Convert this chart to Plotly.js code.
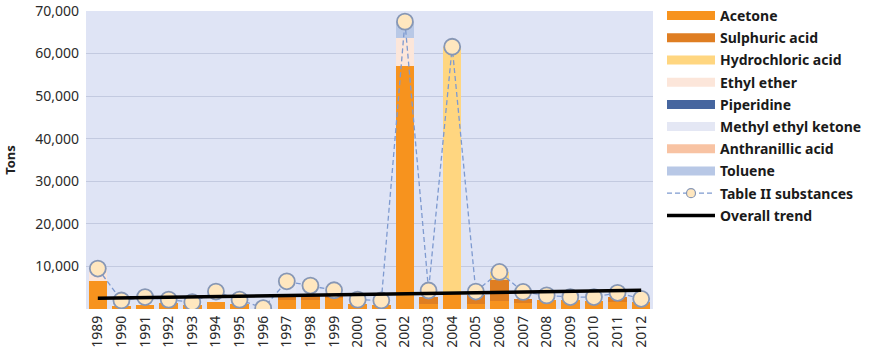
<!DOCTYPE html>
<html>
<head>
<meta charset="utf-8">
<script src="https://cdn.plot.ly/plotly-3.0.1.min.js"></script>
<style>html,body{margin:0;padding:0;background:#fff;}#chart{width:874px;height:355px;}</style>
</head>
<body>
<div id="chart"></div>
<script>
const years = ['1989','1990','1991','1992','1993','1994','1995','1996','1997','1998','1999','2000','2001','2002','2003','2004','2005','2006','2007','2008','2009','2010','2011','2012'];
const acetone      = [6500, 800, 1050, 1400, 1000, 1750, 1200, 0, 2000, 2200, 2500, 1200, 1000, 57100, 1100, 4000, 1200, 1800, 1400, 2200, 2000, 1850, 1600, 1600];
const sulphuric    = [0, 0, 0, 0, 0, 0, 0, 0, 1300, 1100, 500, 0, 0, 0, 1700, 0, 2000, 4900, 1000, 0, 0, 0, 1200, 0];
const hydrochloric = [0, 0, 0, 0, 0, 0, 0, 0, 0, 0, 0, 0, 0, 0, 0, 57600, 0, 2000, 0, 0, 0, 0, 0, 0];
const ethylEther   = [3000, 0, 0, 0, 0, 0, 0, 0, 0, 0, 0, 0, 0, 6600, 0, 0, 0, 0, 0, 0, 0, 0, 0, 0];
const piperidine   = [0, 0, 0, 0, 0, 0, 0, 0, 0, 0, 0, 0, 0, 0, 0, 0, 0, 0, 0, 0, 0, 0, 0, 0];
const mek          = [0, 1200, 1750, 800, 600, 2350, 1000, 200, 3200, 2200, 1400, 1000, 1000, 0, 1550, 0, 900, 0, 1600, 1000, 800, 950, 1000, 800];
const anthranillic = [0, 0, 0, 0, 0, 0, 0, 0, 0, 0, 0, 0, 0, 0, 0, 0, 0, 0, 0, 0, 0, 0, 0, 0];
const toluene      = [0, 0, 0, 0, 0, 0, 0, 0, 0, 0, 0, 0, 0, 3800, 0, 0, 0, 0, 0, 0, 0, 0, 0, 0];
const tableII      = [9500, 2000, 2800, 2200, 1600, 4100, 2200, 200, 6500, 5500, 4400, 2200, 2000, 67500, 4350, 61600, 4100, 8700, 4000, 3200, 2800, 2800, 3800, 2400];
const trendX = ['1989', '2012'];
const trendY = [2500, 4400];
const yTicks = [10000, 20000, 30000, 40000, 50000, 60000, 70000];
const yTickText = ['10,000', '20,000', '30,000', '40,000', '50,000', '60,000', '70,000'];

const series = [
  {name: 'Acetone', y: acetone, color: '#F7931E'},
  {name: 'Sulphuric acid', y: sulphuric, color: '#DF7E22'},
  {name: 'Hydrochloric acid', y: hydrochloric, color: '#FFD680'},
  {name: 'Ethyl ether', y: ethylEther, color: '#FCE6DA'},
  {name: 'Piperidine', y: piperidine, color: '#46669F'},
  {name: 'Methyl ethyl ketone', y: mek, color: '#E4E7F4'},
  {name: 'Anthranillic acid', y: anthranillic, color: '#F8C3A3'},
  {name: 'Toluene', y: toluene, color: '#B8C8E6'}
];

const traces = [];
series.forEach((s, i) => {
  traces.push({type: 'bar', x: years, y: s.y, marker: {color: s.color, line: {width: 0}},
    showlegend: false, legendgroup: 'g' + i, hoverinfo: 'skip'});
});
series.forEach((s, i) => {
  traces.push({type: 'scatter', mode: 'lines', x: [years[0]], y: [null], name: s.name,
    line: {color: s.color, width: 9}, legendgroup: 'g' + i, showlegend: true});
});
const t2Line = {color: '#7E9AD0', width: 1.3, dash: '5px,3px'};
traces.push({type: 'scatter', mode: 'lines+markers', x: years, y: tableII, name: 'Table II substances',
  line: t2Line,
  marker: {symbol: 'circle', size: 16, color: '#FFE7BF', line: {color: '#8797B5', width: 1.8}},
  legendgroup: 'g8', showlegend: false});
traces.push({type: 'scatter', mode: 'lines+markers', x: [years[0]], y: [null], name: 'Table II substances',
  line: t2Line,
  marker: {symbol: 'circle', size: 9, color: '#FFE7BF', line: {color: '#8797B5', width: 1.2}},
  legendgroup: 'g8', showlegend: true});
traces.push({type: 'scatter', mode: 'lines', x: trendX, y: trendY, name: 'Overall trend',
  line: {color: '#000000', width: 3.5}, legendgroup: 'g9'});

const layout = {
  width: 874, height: 355,
  margin: {l: 86, r: 221, t: 11, b: 46, autoexpand: false},
  paper_bgcolor: '#ffffff',
  plot_bgcolor: '#DFE4F5',
  barmode: 'stack',
  bargap: 0.22,
  font: {family: 'Noto Sans, sans-serif', color: '#333333'},
  xaxis: {type: 'category', range: [-0.5, 23.5], tickangle: -90, tickfont: {size: 14, color: '#2a2a2a'},
    ticklabelstandoff: 3,
    showgrid: false, zeroline: false, showline: false, ticks: '', automargin: false},
  yaxis: {range: [0, 70000], tickvals: yTicks, ticktext: yTickText, tickfont: {size: 14, color: '#2a2a2a'},
    ticklabelstandoff: 6,
    showgrid: true, gridcolor: '#C3CAE0', gridwidth: 1, zeroline: false, showline: false, ticks: '',
    title: {text: 'Tons', font: {size: 13, color: '#222222', family: 'Noto Sans, sans-serif', weight: 'bold'}, standoff: 16},
    automargin: false},
  showlegend: true,
  legend: {xref: 'container', yref: 'container', x: 662 / 874, y: 1, xanchor: 'left', yanchor: 'top',
    traceorder: 'grouped', tracegroupgap: 1, maxheight: 1,
    bgcolor: 'rgba(0,0,0,0)', font: {size: 14, color: '#1a1a1a', family: 'Noto Sans, sans-serif', weight: 'bold'}, itemwidth: 48}
};

Plotly.newPlot('chart', traces, layout, {displayModeBar: false, staticPlot: true});
</script>
</body>
</html>
